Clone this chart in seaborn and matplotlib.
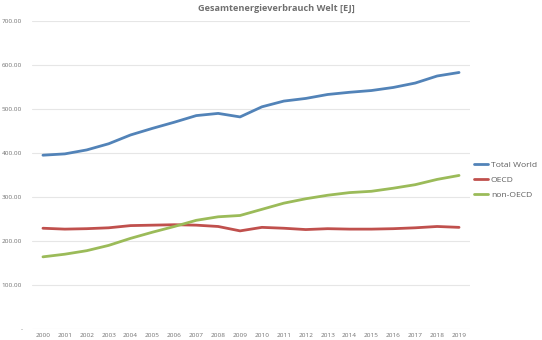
import matplotlib
matplotlib.use("Agg")
import matplotlib.pyplot as plt
import seaborn as sns
import pandas as pd
from matplotlib.ticker import FuncFormatter

years = [str(y) for y in range(2000, 2020)]
total_world = [395, 398, 407, 421, 441, 456, 470, 485, 490, 482,
               505, 518, 524, 533, 538, 542, 549, 559, 575, 583]
oecd = [229, 227, 228, 230, 235, 236, 237, 236, 233, 223,
        231, 229, 226, 228, 227, 227, 228, 230, 233, 231]
non_oecd = [164, 170, 178, 190, 206, 220, 233, 247, 255, 258,
            272, 286, 296, 304, 310, 313, 320, 328, 340, 349]
series_names = ["Total World", "OECD", "non-OECD"]
colors = ["#5283B8", "#C0504D", "#9BBB59"]

df = pd.DataFrame({"Jahr": years * 3,
                   "EJ": total_world + oecd + non_oecd,
                   "Region": sum([[n] * len(years) for n in series_names], [])})

sns.set_theme(style="white")
plt.rcParams["font.family"] = ["Open Sans", "DejaVu Sans"]

fig = plt.figure(figsize=(5.42, 3.40), dpi=100)
ax = fig.add_axes([32 / 542, 1 - 329 / 340, 438 / 542, 308 / 340])

sns.lineplot(data=df, x="Jahr", y="EJ", hue="Region", hue_order=series_names,
             palette=colors, linewidth=2.0, ax=ax, sort=False)

ax.set_ylim(0, 700)
ax.set_xlim(-0.5, len(years) - 0.5)
ax.set_yticks(range(0, 701, 100))
ax.yaxis.set_major_formatter(FuncFormatter(lambda v, p: "-" if v == 0 else f"{v:.2f}"))
ax.grid(axis="y", color="#e6e6e6", linewidth=0.8)
ax.set_axisbelow(True)
for s in ax.spines.values():
    s.set_visible(False)
ax.tick_params(axis="both", length=0, labelsize=4.6, colors="#707070")
ax.tick_params(axis="y", pad=7)
ax.tick_params(axis="x", pad=3)
ax.set_xlabel("")
ax.set_ylabel("")

fig.text(0.509, 0.975, "Gesamtenergieverbrauch Welt [EJ]", ha="center", va="center",
         fontsize=6.6, fontweight="bold", color="#707070")

leg = ax.legend(loc="center left", bbox_to_anchor=(1.01, 0.484), frameon=False,
                fontsize=6.1, handlelength=1.6, handletextpad=0.35, labelspacing=0.85,
                borderaxespad=0, borderpad=0)
for t in leg.get_texts():
    t.set_color("#606060")

fig.savefig("out.png", dpi=100, facecolor="white")
